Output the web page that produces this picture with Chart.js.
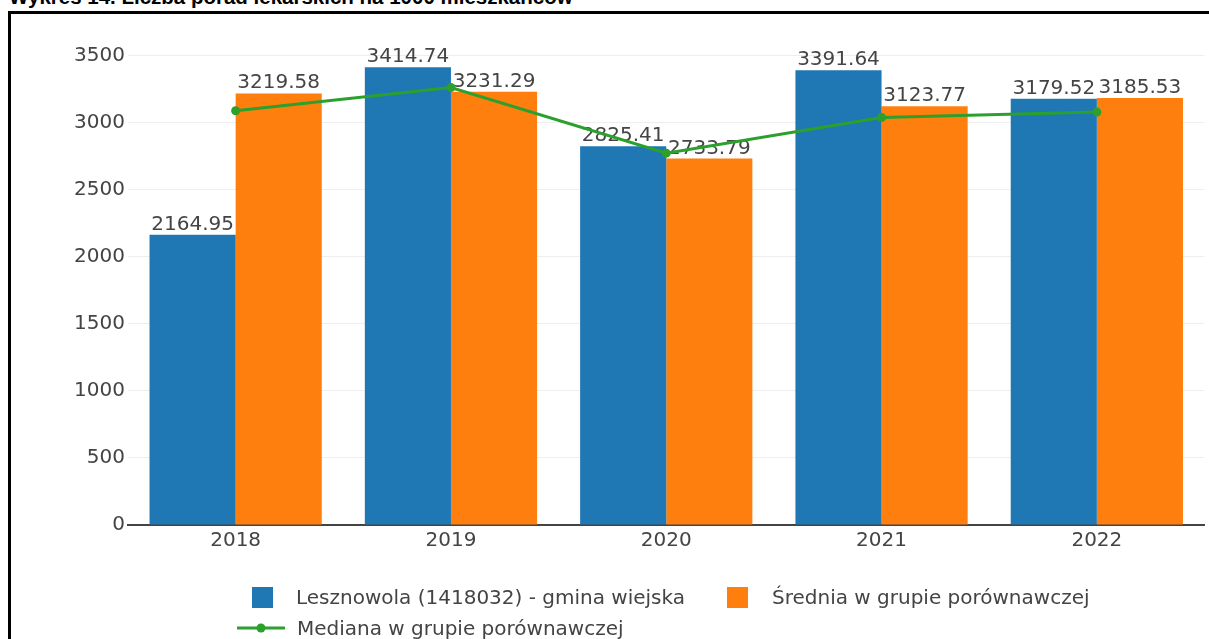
<!DOCTYPE html>
<html>
<head>
<meta charset="utf-8">
<script src="https://cdn.jsdelivr.net/npm/chart.js@4"></script>
<style>
  body { margin: 0; background: #fff; width: 1209px; height: 639px; overflow: hidden; position: relative; font-family: "DejaVu Sans", Verdana, sans-serif; }
  #title { position: absolute; left: 9px; top: -15px; font: bold 20.5px "Liberation Sans", Arial, sans-serif; line-height: 24px; color: #000; white-space: nowrap; }
  #frame { position: absolute; left: 8px; top: 11px; width: 1240px; height: 700px; border-left: 3px solid #000; border-top: 3px solid #000; }
  #chart { position: absolute; left: 0; top: 0; }
  #legend { position: absolute; left: 0; top: 0; width: 1209px; height: 639px; pointer-events: none; color: #444; font-size: 20px; }
  .item { position: absolute; white-space: nowrap; line-height: 24px; }
  .sq { display: inline-block; width: 21px; height: 21px; position: absolute; }
  .txt { position: absolute; }
</style>
</head>
<body>
<div id="title">Wykres 14. Liczba porad lekarskich na 1000 mieszkańców</div>
<div id="frame"></div>
<canvas id="chart" width="1209" height="560"></canvas>
<div id="legend"></div>
<script>
// data
const YEARS = ['2018', '2019', '2020', '2021', '2022'];
const GMINA = [2164.95, 3414.74, 2825.41, 3391.64, 3179.52];
const SREDNIA = [3219.58, 3231.29, 2733.79, 3123.77, 3185.53];
const MEDIANA = [3090, 3263, 2774, 3040, 3080];
const Y_TICKS = [0, 500, 1000, 1500, 2000, 2500, 3000, 3500];
const LABELS = ['Lesznowola (1418032) - gmina wiejska', 'Średnia w grupie porównawczej', 'Mediana w grupie porównawczej'];

const BLUE = '#1f77b4';
const ORANGE = '#ff7f0e';
const GREEN = '#2ca02c';
const TEXT = '#444';
const FONT = '"DejaVu Sans", Verdana, sans-serif';

// value labels above bars, drawn before the line so the line sits on top
const barLabels = {
    id: 'barLabels',
    afterDatasetDraw(chart, args) {
        const ds = chart.data.datasets[args.index];
        if (ds.type !== 'bar') return;
        const ctx = chart.ctx;
        ctx.save();
        ctx.font = '20px ' + FONT;
        ctx.fillStyle = TEXT;
        ctx.textAlign = 'center';
        ctx.textBaseline = 'alphabetic';
        args.meta.data.forEach((bar, i) => {
            ctx.fillText(ds.data[i].toFixed(2), bar.x, bar.y - 5);
        });
        ctx.restore();
    }
};

const chart = new Chart(document.getElementById('chart').getContext('2d'), {
    data: {
        labels: YEARS,
        datasets: [
            {
                type: 'bar',
                label: LABELS[0],
                data: GMINA,
                backgroundColor: BLUE,
                categoryPercentage: 0.8,
                barPercentage: 1.0,
                order: 2
            },
            {
                type: 'bar',
                label: LABELS[1],
                data: SREDNIA,
                backgroundColor: ORANGE,
                categoryPercentage: 0.8,
                barPercentage: 1.0,
                order: 2
            },
            {
                type: 'line',
                label: LABELS[2],
                data: MEDIANA,
                borderColor: GREEN,
                backgroundColor: GREEN,
                borderWidth: 3,
                pointRadius: 4.5,
                pointBackgroundColor: GREEN,
                pointBorderWidth: 0,
                tension: 0,
                order: 1
            }
        ]
    },
    options: {
        responsive: false,
        animation: false,
        layout: { padding: { top: 29, right: 4, left: 0, bottom: 0 } },
        plugins: {
            legend: { display: false },
            tooltip: { enabled: false }
        },
        scales: {
            x: {
                afterFit: s => { s.height = 35; },
                grid: { display: false, drawTicks: false },
                border: { display: true, color: TEXT, width: 2 },
                ticks: { color: TEXT, font: { family: FONT, size: 20 }, padding: 4 }
            },
            y: {
                min: 0,
                max: 3700,
                afterFit: s => { s.width = 128; },
                afterBuildTicks: s => { s.ticks = Y_TICKS.map(v => ({ value: v })); },
                border: { display: false },
                grid: {
                    drawTicks: false,
                    color: c => c.tick.value === 0 ? 'rgba(0,0,0,0)' : '#eeeeee',
                    lineWidth: 1
                },
                ticks: {
                    color: TEXT,
                    font: { family: FONT, size: 20 },
                    padding: 3,
                    callback: v => String(v)
                }
            }
        }
    },
    plugins: [barLabels]
});

// legend (plotly-like, left aligned rows)
const legend = document.getElementById('legend');
function addItem(left, top, html) {
    const d = document.createElement('div');
    d.className = 'item';
    d.style.left = left + 'px';
    d.style.top = top + 'px';
    d.innerHTML = html;
    legend.appendChild(d);
}
addItem(252, 585, '<span class="sq" style="left:0;top:2px;background:' + BLUE + '"></span><span class="txt" style="left:44px">' + LABELS[0] + '</span>');
addItem(727, 585, '<span class="sq" style="left:0;top:2px;background:' + ORANGE + '"></span><span class="txt" style="left:45px">' + LABELS[1] + '</span>');
addItem(237, 616, '<svg width="50" height="24" style="position:absolute;left:0;top:0"><line x1="0" y1="12" x2="48" y2="12" stroke="' + GREEN + '" stroke-width="3"/><circle cx="24" cy="12" r="4.5" fill="' + GREEN + '"/></svg><span class="txt" style="left:60px">' + LABELS[2] + '</span>');
</script>
</body>
</html>
